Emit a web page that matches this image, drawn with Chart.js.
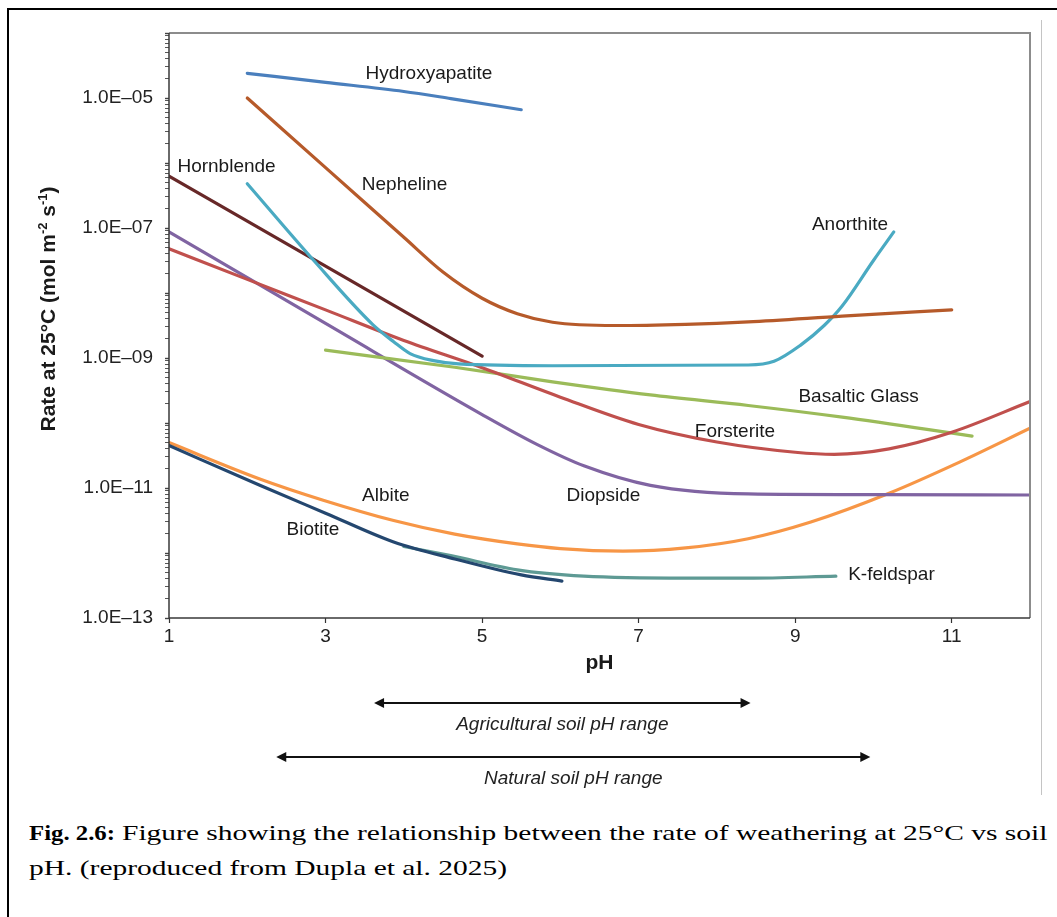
<!DOCTYPE html>
<html>
<head>
<meta charset="utf-8">
<title>Weathering rate vs soil pH</title>
<script src="https://cdn.jsdelivr.net/npm/chart.js@4.4.1/dist/chart.umd.min.js"></script>
<style>
    html, body { margin: 0; padding: 0; background: #fff; overflow: hidden; }
    #page { position: relative; width: 1057px; height: 917px; overflow: hidden; }
    #frame { position: absolute; left: 7px; top: 8px; width: 1200px; height: 1200px;
             border-top: 2px solid #000; border-left: 2px solid #000; }
    #rule { position: absolute; left: 1041px; top: 20px; width: 1px; height: 775px; background: #c4c4c4; }
    #chart { position: absolute; left: 0; top: 0; }
    .cap { position: absolute; font-family: "Liberation Serif", "Times New Roman", serif; font-size: 22px;
           line-height: 22px; white-space: nowrap; color: #000; transform-origin: 0 0; }
    .cap-bold { font-weight: bold; transform: scaleX(1.126); }
    .cap-text { transform: scaleX(1.34); }
</style>
</head>
<body>
<div id="page">
    <div id="frame"></div>
    <div id="rule"></div>
    <canvas id="chart" width="1057" height="800"></canvas>
    <div class="cap cap-bold" style="left: 29px; top: 822px;">Fig. 2.6:</div>
    <div class="cap cap-text" style="left: 122px; top: 822px;">Figure showing the relationship between the rate of weathering at 25°C vs soil</div>
    <div class="cap cap-text" style="left: 29px; top: 857px;">pH. (reproduced from Dupla et al. 2025)</div>
</div>

<script>
(function () {
    'use strict';

    // ---- values: pH and rate at 25°C (mol m-2 s-1) ----
    var hydroxyapatitePH   = [2.0, 3.0, 4.0, 4.6, 5.5];
    var hydroxyapatiteRate = [2.40e-5, 1.74e-5, 1.26e-5, 9.8e-6, 6.6e-6];

    var nephelinePH   = [2.0, 3.0, 4.0, 4.5, 5.0, 5.45, 5.9, 6.7, 7.6, 8.4, 9.6, 11.0];
    var nephelineRate = [1.0e-5, 8.5e-7, 7.2e-8, 2.1e-8, 8.3e-9, 4.8e-9, 3.55e-9, 3.16e-9, 3.3e-9, 3.6e-9, 4.4e-9, 5.5e-9];

    var anorthitePH   = [2.0, 2.85, 3.6, 3.87, 4.08, 4.38, 4.7, 5.9, 8.4, 8.73, 9.07, 9.37, 9.6, 10.0, 10.26];
    var anorthiteRate = [4.8e-7, 3.16e-8, 3.3e-9, 1.78e-9, 1.17e-9, 9.1e-10, 8.1e-10, 7.6e-10, 7.8e-10, 8.9e-10, 1.58e-9, 3.16e-9, 6.3e-9, 3.16e-8, 8.7e-8];

    var hornblendePH   = [1.0, 2.8, 5.0];
    var hornblendeRate = [6.3e-7, 3.55e-8, 1.07e-9];

    var forsteritePH   = [1.0, 2.0, 3.0, 4.0, 5.0, 6.0, 7.0, 8.0, 9.0, 9.5, 10.2, 11.0, 12.0];
    var forsteriteRate = [4.8e-8, 1.62e-8, 5.5e-9, 1.86e-9, 7.1e-10, 2.5e-10, 9.5e-11, 5.1e-11, 3.55e-11, 3.3e-11, 4.0e-11, 7.2e-11, 2.14e-10];

    var diopsidePH   = [1.0, 3.0, 5.0, 5.7, 6.3, 7.15, 8.4, 10.0, 12.0];
    var diopsideRate = [8.7e-8, 3.4e-9, 1.35e-10, 4.7e-11, 2.2e-11, 1.10e-11, 8.1e-12, 7.9e-12, 7.8e-12];

    var basalticGlassPH   = [3.0, 4.65, 5.9, 7.15, 8.4, 9.6, 11.26];
    var basalticGlassRate = [1.32e-9, 7.2e-10, 4.3e-10, 2.7e-10, 1.86e-10, 1.23e-10, 6.3e-11];

    var albitePH   = [1.0, 2.16, 2.97, 3.87, 4.65, 5.45, 6.0, 6.8, 7.6, 8.4, 9.2, 10.2, 11.1, 12.0];
    var albiteRate = [5.0e-11, 1.38e-11, 6.5e-12, 3.16e-12, 1.95e-12, 1.38e-12, 1.17e-12, 1.07e-12, 1.20e-12, 1.66e-12, 3.0e-12, 8.3e-12, 2.5e-11, 8.3e-11];

    var biotitePH   = [1.0, 2.16, 3.0, 3.87, 4.65, 5.5, 6.02];
    var biotiteRate = [4.5e-11, 1.10e-11, 4.1e-12, 1.48e-12, 8.1e-13, 4.6e-13, 3.7e-13];

    var kFeldsparPH   = [4.0, 4.6, 5.45, 6.3, 7.6, 8.4, 9.52];
    var kFeldsparRate = [1.26e-12, 9.1e-13, 5.5e-13, 4.4e-13, 4.1e-13, 4.1e-13, 4.4e-13];

    // curve names and where they are written (pH, rate)
    var labelText = ['Hydroxyapatite', 'Nepheline', 'Hornblende', 'Anorthite', 'Basaltic Glass',
                     'Forsterite', 'Diopside', 'Albite', 'Biotite', 'K-feldspar'];
    var labelPH   = [4.32, 4.01, 1.735, 9.70, 9.81, 8.23, 6.55, 3.77, 2.84, 10.23];
    var labelRate = [2.4e-5, 4.6e-7, 8.9e-7, 1.12e-7, 2.57e-10, 7.4e-11, 7.6e-12, 7.6e-12, 2.24e-12, 4.6e-13];

    // soil pH ranges shown under the axis
    var agriculturalRange = [3.62, 8.43];
    var naturalRange      = [2.37, 9.96];

    // axes
    var xTickValues = [1, 3, 5, 7, 9, 11];
    var yLabelExponents = [-13, -11, -9, -7, -5];

    var FONT = '"Liberation Sans", Arial, Helvetica, sans-serif';

    window.WeatheringChart = {
        // line colours
        palette: {
            Hydroxyapatite: '#4a7fbd',
            Nepheline: '#b65a2a',
            Anorthite: '#4aaac2',
            Hornblende: '#672828',
            Forsterite: '#c0504d',
            'Basaltic Glass': '#9bbb59',
            Diopside: '#8064a2',
            Biotite: '#24476f',
            'K-feldspar': '#5e9a94',
            Albite: '#f79646'
        },

        // Pair up pH and rate arrays
        points: function (ph, rate) {
            return ph.map(function (p, i) {
                return { x: p, y: rate[i] };
            });
        },

        buildDatasets: function () {
            var self = this;
            var series = [
                ['Hydroxyapatite', hydroxyapatitePH, hydroxyapatiteRate],
                ['Nepheline', nephelinePH, nephelineRate],
                ['Anorthite', anorthitePH, anorthiteRate],
                ['Hornblende', hornblendePH, hornblendeRate],
                ['Forsterite', forsteritePH, forsteriteRate],
                ['Basaltic Glass', basalticGlassPH, basalticGlassRate],
                ['Diopside', diopsidePH, diopsideRate],
                ['Biotite', biotitePH, biotiteRate],
                ['K-feldspar', kFeldsparPH, kFeldsparRate],
                ['Albite', albitePH, albiteRate]
            ];
            return series.map(function (s) {
                return {
                    label: s[0],
                    data: self.points(s[1], s[2]),
                    borderColor: self.palette[s[0]],
                    backgroundColor: self.palette[s[0]],
                    fill: false
                };
            });
        },

        // Y title with superscripts, rotated
        drawYTitle: function (ctx, cx, cy) {
            var parts = [
                { text: 'Rate at 25\u00B0C (mol m', size: 21, rise: 0 },
                { text: '-2', size: 13, rise: 8 },
                { text: ' s', size: 21, rise: 0 },
                { text: '-1', size: 13, rise: 8 },
                { text: ')', size: 21, rise: 0 }
            ];
            var total = 0;
            ctx.save();
            parts.forEach(function (p) {
                ctx.font = 'bold ' + p.size + 'px ' + FONT;
                p.w = ctx.measureText(p.text).width;
                total += p.w;
            });
            ctx.translate(cx, cy);
            ctx.rotate(-Math.PI / 2);
            ctx.fillStyle = '#1a1a1a';
            ctx.textBaseline = 'alphabetic';
            ctx.textAlign = 'left';
            var x = -total / 2;
            parts.forEach(function (p) {
                ctx.font = 'bold ' + p.size + 'px ' + FONT;
                ctx.fillText(p.text, x, 8 - p.rise);
                x += p.w;
            });
            ctx.restore();
        },

        // Double headed arrow with a caption under it
        drawRange: function (ctx, x1, x2, y, text) {
            var head = 10;
            ctx.save();
            ctx.strokeStyle = '#111';
            ctx.fillStyle = '#111';
            ctx.lineWidth = 2;
            ctx.beginPath();
            ctx.moveTo(x1 + head - 2, y);
            ctx.lineTo(x2 - head + 2, y);
            ctx.stroke();
            ctx.beginPath();
            ctx.moveTo(x1, y);
            ctx.lineTo(x1 + head, y - 5);
            ctx.lineTo(x1 + head, y + 5);
            ctx.closePath();
            ctx.fill();
            ctx.beginPath();
            ctx.moveTo(x2, y);
            ctx.lineTo(x2 - head, y - 5);
            ctx.lineTo(x2 - head, y + 5);
            ctx.closePath();
            ctx.fill();
            ctx.font = 'italic 19px ' + FONT;
            ctx.textAlign = 'center';
            ctx.textBaseline = 'middle';
            ctx.fillStyle = '#222';
            ctx.fillText(text, (x1 + x2) / 2, y + 22);
            ctx.restore();
        },

        decorPlugin: function () {
            var self = this;
            return {
                id: 'figureDecor',
                afterDraw: function (chart) {
                    var ctx = chart.ctx;
                    var a = chart.chartArea;
                    var xs = chart.scales.x;
                    var ys = chart.scales.y;

                    // plot frame: grey top/right, dark axes
                    ctx.save();
                    ctx.strokeStyle = '#8c8c8c';
                    ctx.lineWidth = 2;
                    ctx.beginPath();
                    ctx.moveTo(a.left, a.top);
                    ctx.lineTo(a.right, a.top);
                    ctx.lineTo(a.right, a.bottom);
                    ctx.stroke();
                    ctx.strokeStyle = '#3a3a3a';
                    ctx.lineWidth = 1.5;
                    ctx.beginPath();
                    ctx.moveTo(a.left, a.top);
                    ctx.lineTo(a.left, a.bottom);
                    ctx.lineTo(a.right, a.bottom);
                    ctx.stroke();

                    // curve names
                    ctx.font = '19px ' + FONT;
                    ctx.fillStyle = '#1a1a1a';
                    ctx.textAlign = 'center';
                    ctx.textBaseline = 'middle';
                    labelText.forEach(function (t, i) {
                        ctx.fillText(t, xs.getPixelForValue(labelPH[i]), ys.getPixelForValue(labelRate[i]));
                    });

                    // axis titles
                    ctx.font = 'bold 21px ' + FONT;
                    ctx.fillText('pH', (a.left + a.right) / 2, 663);
                    ctx.restore();
                    self.drawYTitle(ctx, 47, 309);

                    // soil pH ranges
                    self.drawRange(ctx, xs.getPixelForValue(agriculturalRange[0]), xs.getPixelForValue(agriculturalRange[1]),
                        703, 'Agricultural soil pH range');
                    self.drawRange(ctx, xs.getPixelForValue(naturalRange[0]), xs.getPixelForValue(naturalRange[1]),
                        757, 'Natural soil pH range');
                }
            };
        },

        init: function () {
            var canvas = document.getElementById('chart');
            this.chart = new Chart(canvas.getContext('2d'), {
                type: 'line',
                data: { datasets: this.buildDatasets() },
                options: {
                    responsive: false,
                    animation: false,
                    events: [],
                    layout: { padding: { left: 20, right: 27, top: 33, bottom: 0 } },
                    plugins: {
                        legend: { display: false },
                        tooltip: { enabled: false }
                    },
                    elements: {
                        point: { radius: 0 },
                        line: { borderWidth: 3.2, cubicInterpolationMode: 'monotone', borderCapStyle: 'round' }
                    },
                    scales: {
                        x: {
                            type: 'linear',
                            min: 1,
                            max: 12,
                            afterBuildTicks: function (scale) {
                                scale.ticks = xTickValues.map(function (v) { return { value: v }; });
                            },
                            afterFit: function (scale) { scale.height = 182; },
                            border: { display: false },
                            grid: { drawOnChartArea: false, tickLength: 5, tickColor: '#333', tickWidth: 1.2 },
                            ticks: {
                                autoSkip: false,
                                maxRotation: 0,
                                padding: 2,
                                color: '#222',
                                font: { family: FONT, size: 19 },
                                callback: function (value) { return String(value); }
                            }
                        },
                        y: {
                            type: 'logarithmic',
                            min: 1e-13,
                            max: 1e-4,
                            afterBuildTicks: function (scale) {
                                var ticks = [];
                                for (var e = -13; e < -4; e++) {
                                    for (var m = 1; m < 10; m++) {
                                        ticks.push({ value: m * Math.pow(10, e), major: m === 1 });
                                    }
                                }
                                ticks.push({ value: 1e-4, major: true });
                                scale.ticks = ticks;
                            },
                            afterFit: function (scale) { scale.width = 149; },
                            border: { display: false },
                            grid: {
                                drawOnChartArea: false,
                                tickLength: 4,
                                tickColor: '#444',
                                tickWidth: function (c) { return c.tick && c.tick.major ? 1.4 : 0.9; }
                            },
                            ticks: {
                                autoSkip: false,
                                padding: 12,
                                color: '#222',
                                font: { family: FONT, size: 19 },
                                callback: function (value) {
                                    var exp = Math.round(Math.log10(value));
                                    if (Math.abs(value / Math.pow(10, exp) - 1) > 1e-6) return '';
                                    if (yLabelExponents.indexOf(exp) < 0) return '';
                                    var n = Math.abs(exp);
                                    return '1.0E\u2013' + (n < 10 ? '0' + n : n);
                                }
                            }
                        }
                    }
                },
                plugins: [this.decorPlugin()]
            });
        }
    };

    WeatheringChart.init();
})();
</script>
</body>
</html>
